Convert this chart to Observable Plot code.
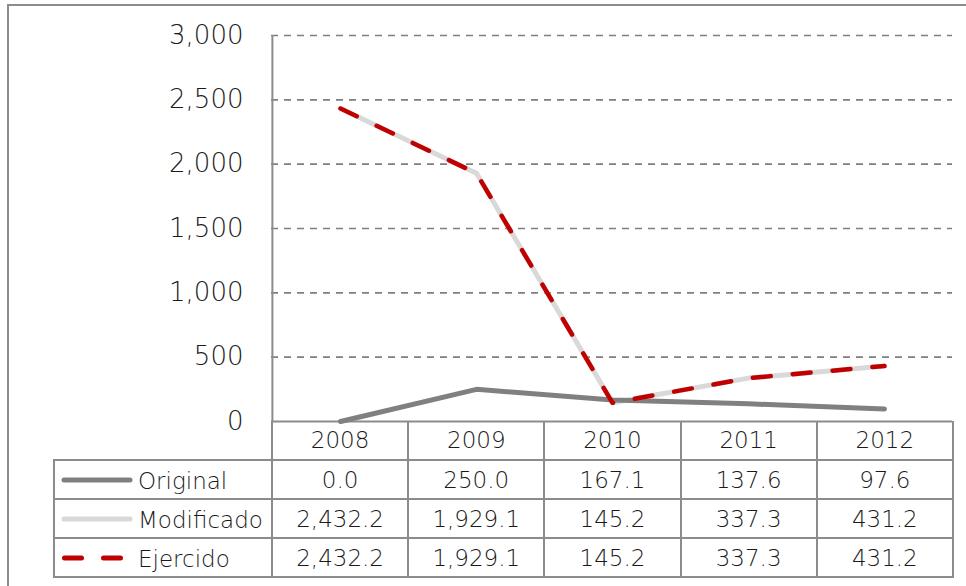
<!DOCTYPE html>
<html>
<head>
<meta charset="utf-8">
<script src="https://cdn.jsdelivr.net/npm/d3@7"></script>
<script src="https://cdn.jsdelivr.net/npm/@observablehq/plot@0.6"></script>
<style>
  html, body { margin: 0; padding: 0; background: #fff; }
  #wrap { position: relative; width: 966px; height: 586px; overflow: hidden; font-family: "DejaVu Sans", sans-serif; color: #262626; }
  #frame { position: absolute; left: 7px; top: 4px; width: 980px; height: 600px; border-left: 2px solid #8c8c8c; border-top: 2px solid #8c8c8c; box-sizing: border-box; }
  #chart { position: absolute; left: 0; top: 0; }
  #chart svg text { font-weight: 200; }
  table.dt { position: absolute; border-collapse: collapse; font-size: 23px; font-weight: 200; color: #1a1a1a; }
  table.dt td { border: 2px solid #8c8c8c; text-align: center; padding: 0; height: 37px; box-sizing: border-box; }
  table.dt td.blank { border: none; border-right: 2px solid #8c8c8c; }
  table.dt td.lab { text-align: left; white-space: nowrap; }
  table.dt td.lab svg { vertical-align: middle; margin-left: 6px; margin-right: 5px; }
  table.dt td.lab span { vertical-align: middle; }
</style>
</head>
<body>
<div id="wrap">
  <div id="frame"></div>
  <div id="chart"></div>
</div>
<script>
const years = ["2008", "2009", "2010", "2011", "2012"];
const original = [0.0, 250.0, 167.1, 137.6, 97.6];
const modificado = [2432.2, 1929.1, 145.2, 337.3, 431.2];
const ejercido = [2432.2, 1929.1, 145.2, 337.3, 431.2];
const seriesNames = ["Original", "Modificado", "Ejercido"];
const yTicks = [0, 500, 1000, 1500, 2000, 2500, 3000];

const seriesValues = {Original: original, Modificado: modificado, Ejercido: ejercido};
const rows = seriesNames.flatMap(s => years.map((y, i) => ({series: s, year: y, value: seriesValues[s][i]})));

const W = 966, H = 586;
const mL = 271, mR = 14, mT = 35, mB = 165;

const plot = Plot.plot({
  width: W,
  height: H,
  marginLeft: mL,
  marginRight: mR,
  marginTop: mT,
  marginBottom: mB,
  style: {fontFamily: "DejaVu Sans, sans-serif", background: "transparent", overflow: "visible"},
  x: {type: "point", domain: years, padding: 0.5, axis: null},
  y: {domain: [0, 3000], ticks: yTicks, tickFormat: d3.format(","), label: null},
  marks: [
    Plot.gridY(yTicks.filter(d => d > 0), {stroke: "#7f7f7f", strokeOpacity: 1, strokeWidth: 1.6, strokeDasharray: "7 6"}),
    Plot.axisY({ticks: yTicks, tickFormat: d3.format(","), tickSize: 0, tickPadding: 28, fontSize: 26, fill: "#1a1a1a", label: null}),
    Plot.ruleX([0], {x: () => years[0], dx: -68.1, y1: 0, y2: 3000, stroke: "#8c8c8c", strokeWidth: 2}),
    Plot.ruleY([0], {stroke: "#8c8c8c", strokeWidth: 2}),
    Plot.line(rows.filter(d => d.series === "Modificado"), {x: "year", y: "value", stroke: "#d9d9d9", strokeWidth: 5, strokeLinecap: "round", strokeLinejoin: "round"}),
    Plot.line(rows.filter(d => d.series === "Original"), {x: "year", y: "value", stroke: "#808080", strokeWidth: 5, strokeLinecap: "round", strokeLinejoin: "round"}),
    Plot.line(rows.filter(d => d.series === "Ejercido"), {x: "year", y: "value", stroke: "#c00000", strokeWidth: 4.5, strokeDasharray: "18 22", strokeLinecap: "round", strokeLinejoin: "round"})
  ]
});
document.getElementById("chart").appendChild(plot);

// Data table below the axis
const step = (W - mL - mR) / years.length;
const fmt = d3.format(",.1f");
const swatch = {
  Original: `<svg width="72" height="8"><line x1="3" y1="4" x2="69" y2="4" stroke="#808080" stroke-width="5" stroke-linecap="round"/></svg>`,
  Modificado: `<svg width="72" height="8"><line x1="3" y1="4" x2="69" y2="4" stroke="#d9d9d9" stroke-width="5" stroke-linecap="round"/></svg>`,
  Ejercido: `<svg width="72" height="8"><line x1="3.5" y1="4" x2="60" y2="4" stroke="#c00000" stroke-width="5" stroke-linecap="round" stroke-dasharray="17 22"/></svg>`
};
const tbl = document.createElement("table");
tbl.className = "dt";
const labW = mL - 53;
let html = `<colgroup><col style="width:${labW}px">` + years.map(() => `<col style="width:${step}px">`).join("") + `</colgroup>`;
html += `<tr style="height:39px"><td class="blank"></td>` + years.map(y => `<td style="border-top:none">${y}</td>`).join("") + `</tr>`;
for (const s of seriesNames) {
  html += `<tr style="height:39px"><td class="lab">${swatch[s]}<span>${s}</span></td>` +
    seriesValues[s].map(v => `<td>${fmt(v)}</td>`).join("") + `</tr>`;
}
tbl.innerHTML = html;
tbl.style.left = (53) + "px";
tbl.style.top = (H - mB) + "px";
tbl.style.width = (W - mR - 53) + "px";
tbl.style.tableLayout = "fixed";
document.getElementById("wrap").appendChild(tbl);
</script>
</body>
</html>
